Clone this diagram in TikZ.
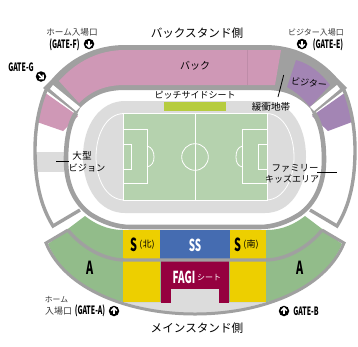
\documentclass[tikz,border=0pt]{standalone}
\usepackage{graphicx}
\usepackage{fontspec}
\setmainfont{Noto Sans CJK JP}
\definecolor{ring}{HTML}{A0A0A0}
\definecolor{track}{HTML}{DCDCDC}
\definecolor{pink}{HTML}{CF98B6}
\definecolor{purp}{HTML}{A385B4}
\definecolor{stgreen}{HTML}{92BC8A}
\definecolor{yel}{HTML}{EDCF00}
\definecolor{blu}{HTML}{456CB1}
\definecolor{crim}{HTML}{95003F}
\definecolor{lime}{HTML}{B6CC3F}
\definecolor{pitch}{HTML}{B5D2AE}
\newcommand{\cond}[2][.6]{\scalebox{#1}[1]{\bfseries #2}}
\newcommand{\fs}[1]{\fontsize{#1}{#1}\selectfont}
\newcommand{\gateicon}[4]{%
  \node[iconc] (#1) at (#2,#3) {};
  \begin{scope}[shift={(#1.center)},rotate=#4]
    \draw[white,line width=1.5pt] (0,-3.4) -- (0,3);
    \draw[white,line width=1.5pt,line join=miter] (-2.9,0.2) -- (0,3.1) -- (2.9,0.2);
  \end{scope}}
\tikzset{
  iconc/.style={circle,fill=black,inner sep=0pt,minimum size=10.5pt},
  lab/.style={inner sep=0pt,text=black},
  small/.style={inner sep=0pt,text=black!78},
  pline/.style={draw=white,line width=.8pt},
  wall/.style={draw=ring,line width=4.6pt},
  thinwall/.style={draw=ring,line width=3.4pt},
  leader/.style={draw=black,line width=.8pt},
}
\begin{document}
\begin{tikzpicture}[x=1pt,y=-1pt]
\useasboundingbox (0,0) rectangle (358,346);
\fill[white] (0,0) rectangle (358,346);
% track
\fill[track] (125,101) -- (265,101) .. controls (290,101) and (306,125) .. (306,157)
  .. controls (306,189) and (290,213) .. (265,213) -- (125,213)
  .. controls (100,213) and (83,189) .. (83,157) .. controls (83,125) and (100,101) .. (125,101) -- cycle;
% pitch
\fill[pitch] (123.5,113.5) rectangle (267,200);
\draw[pline] (123.5,113.5) rectangle (267,200);
\draw[pline] (195,113.5) -- (195,200);
\draw[pline] (195,157) circle[radius=13.3pt];
\draw[pline] (123.5,129) -- (147,129) -- (147,183) -- (123.5,183);
\draw[pline] (123.5,144) -- (131.7,144) -- (131.7,169) -- (123.5,169);
\draw[pline] (147,146) .. controls (152,147) and (154,152) .. (154,157) .. controls (154,162) and (152,166) .. (147,167);
\draw[pline] (266.5,129) -- (242.5,129) -- (242.5,183) -- (266.5,183);
\draw[pline] (266.5,144) -- (258,144) -- (258,169) -- (266.5,169);
\draw[pline] (242.5,146) .. controls (237.5,147) and (236,152) .. (236,157) .. controls (236,162) and (237.5,166) .. (242.5,167);
\draw[pline] (123.5,113.5) .. controls (106,114) and (96,135) .. (96,157) .. controls (96,179) and (106,199) .. (123.5,200);
\draw[pline] (267,113.5) .. controls (284,114) and (294,135) .. (294,157) .. controls (294,179) and (284,199) .. (267,200);
\fill[lime] (164,102) rectangle (226,111);
% side stands
\fill[pink] (44,92) -- (78,116) -- (63,131) -- (37,122) -- cycle;
\fill[purp] (346,92) -- (312,116) -- (328,131) -- (352,122) -- cycle;
\fill[track] (36,152) rectangle (64,172);
\draw[thinwall] (47,88) .. controls (40,103) and (35,125) .. (35,150) .. controls (35,180) and (40,205) .. (53,226) -- (80,210);
\draw[thinwall] (343,88) .. controls (350,103) and (355,125) .. (355,150) .. controls (355,180) and (350,205) .. (337,226) -- (310,210);
% back stand grey body
\fill[ring] (52,79) .. controls (70,58) and (95,45) .. (125,45) -- (265,45)
  .. controls (295,45) and (320,58) .. (338,79) -- (347,88) -- (313,114) -- (310,108)
  .. controls (298,96) and (285,90) .. (265,90) -- (125,90)
  .. controls (105,90) and (92,96) .. (80,108) -- (77,114) -- (43,88) -- cycle;
% back stand seats
\fill[pink] (59,81) .. controls (76,62) and (98,50) .. (125,50) -- (281,50) -- (275,85) -- (125,85)
  .. controls (105,85) and (91,91) .. (79,103) -- cycle;
\draw[pink!92!black,line width=.3pt] (247,50) -- (247,85);
\fill[purp] (296,60) .. controls (310,64) and (321,73) .. (330,85) -- (310,107)
  .. controls (303,98) and (296,92) .. (287,87) -- cycle;
% gate strips
\fill[white] (53,85) -- (80,107) -- (76,111) -- (50,89) -- cycle;
\fill[white] (337,85) -- (310,107) -- (314,111) -- (340,89) -- cycle;
% main stand
\fill[track] (123,302) .. controls (150,310) and (170,313) .. (195,313) .. controls (220,313) and (240,310) .. (267,302) -- cycle;
\fill[stgreen] (48,244) -- (85,216) .. controls (95,224) and (108,230) .. (123,230) -- (267,230)
  .. controls (282,230) and (295,224) .. (305,216) -- (342,244) .. controls (330,272) and (305,295) .. (267,302)
  -- (123,302) .. controls (85,295) and (60,272) .. (48,244) -- cycle;
\fill[yel] (123,230) rectangle (160,302);
\fill[yel] (229.5,230) rectangle (266,302);
\fill[blu] (160,230) rectangle (229.5,259);
\fill[crim] (161,261) rectangle (229,302.5);
\fill[track] (170.5,289) rectangle (219,303);
\draw[thinwall] (68,230) .. controls (78,243) and (100,260) .. (125,260) -- (265,260)
  .. controls (290,260) and (312,243) .. (322,230);
\draw[draw=ring,line width=3pt,line join=miter] (68,230) -- (46,243) .. controls (65,290) and (130,314) .. (195,314)
  .. controls (260,314) and (325,290) .. (344,243) -- (322,230);
% inner ring
\draw[wall] (76,113) .. controls (69,124) and (66,140) .. (66,160) .. controls (66,185) and (75,203) .. (90,214)
  .. controls (104,223) and (118,227) .. (130,227) -- (260,227)
  .. controls (272,227) and (286,223) .. (300,214) .. controls (315,203) and (324,185) .. (324,160)
  .. controls (324,140) and (321,124) .. (314,113);
% leaders
\coordinate (vl1) at (56,161); \coordinate (vl2) at (69,161);
\draw[leader] (vl1) -- (vl2);
\coordinate (fl1) at (317,172); \coordinate (fl2) at (337,172);
\draw[leader] (fl1) -- (fl2);
\coordinate (bl1) at (283.7,75); \coordinate (bl2) at (278,97);
\draw[leader] (bl1) -- (bl2);
% labels
\node[lab] (back) at (197,33) {\fs{11.6}バックスタンド側};
\node[lab] (main) at (197,328) {\fs{11.6}メインスタンド側};
\node[small] (hf1) at (72,32.5) {\fs{8.6}ホーム入場口};
\node[lab] (hf2) at (64.5,44.5) {\fs{11.5}\cond{(GATE-F)}};
\gateicon{if}{89}{44}{0}
\node[small] (vg1) at (316,32.5) {\fs{8}ビジター入場口};
\node[lab] (vg2) at (328,44.5) {\fs{11.5}\cond{(GATE-E)}};
\gateicon{ie}{302}{44}{0}
\node[lab] (gg) at (21,67) {\fs{11.5}\cond{GATE-G}};
\gateicon{ig}{41}{76.5}{45}
\node[lab] (bk) at (195,66) {\fs{10}バック};
\node[lab,rotate=-5] (vs) at (309,83) {\fs{9}ビジター};
\node[lab] (ps) at (195,95) {\fs{9}ピッチサイドシート};
\node[lab] (buf) at (271,107) {\fs{9.6}緩衝地帯};
\node[lab] (v1) at (82,156) {\fs{9.6}大型};
\node[lab] (v2) at (87,168) {\fs{9.2}ビジョン};
\node[lab] (f1) at (295,168) {\fs{9.4}ファミリー};
\node[lab] (f2) at (292,179) {\fs{9}キッズエリア};
\node[lab] (s1) at (133.5,245) {\fs{18}\cond{S}};
\node[lab] (s1b) at (147,245) {\fs{9}(北)};
\node[lab] (s2) at (238,245) {\fs{18}\cond{S}};
\node[lab] (s2b) at (251,245) {\fs{9}(南)};
\node[lab,text=white] (ss) at (195,245) {\fs{16.5}\cond{SS}};
\node[lab,text=white] (fagi) at (184,277) {\fs{16.5}\cond{FAGI}};
\node[lab,text=white] (seat) at (209,278) {\fs{8}シート};
\node[lab] (a1) at (90,268) {\fs{18}\cond{A}};
\node[lab] (a2) at (300,268) {\fs{18}\cond{A}};
\node[small] (ha1) at (56.5,300) {\fs{7.8}ホーム};
\node[small] (ha2) at (58.5,311) {\fs{9}入場口};
\node[lab] (ha3) at (90,311) {\fs{11.5}\cond{(GATE-A)}};
\gateicon{ia}{114}{311}{180}
\gateicon{ib}{284}{311}{180}
\node[lab] (gb) at (306,311) {\fs{11.5}\cond{GATE-B}};
\end{tikzpicture}
\end{document}
